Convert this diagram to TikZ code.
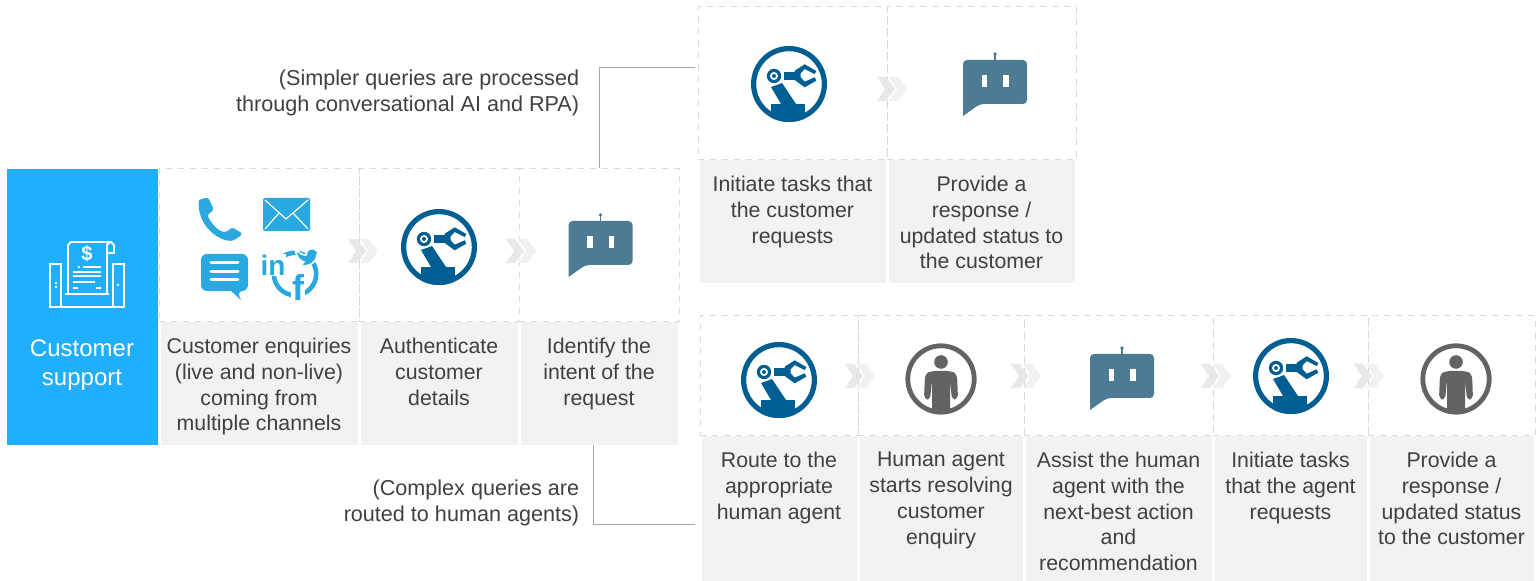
\documentclass[tikz,border=0pt]{standalone}
\usepackage{fontspec}
\setmainfont{Liberation Sans}
\usetikzlibrary{calc,positioning}
\definecolor{supportblue}{HTML}{20AFFF}
\definecolor{channelblue}{HTML}{29A9E0}
\definecolor{robotblue}{HTML}{005E92}
\definecolor{botslate}{HTML}{4D7B93}
\definecolor{agentgrey}{HTML}{636363}
\definecolor{captiongrey}{HTML}{F2F2F2}
\definecolor{dashgrey}{HTML}{D9D9D9}
\definecolor{linkgrey}{HTML}{A6A6A6}
\definecolor{labelgrey}{HTML}{404040}
\definecolor{chevfront}{HTML}{E8E8E8}
\definecolor{chevback}{HTML}{F1F1F1}
\tikzset{
    panel/.style={
        rectangle,
        draw=dashgrey, dashed, line width=0.5pt,
        inner sep=0pt
    },
    captionbox/.style={
        rectangle,
        fill=captiongrey,
        inner sep=0pt
    },
    steptext/.style={
        anchor=north,
        inner sep=0pt,
        align=center,
        text=labelgrey,
        font={\fontsize{10.65pt}{12.9pt}\selectfont}
    },
    sidetext/.style={
        anchor=east,
        inner sep=0pt,
        align=right,
        text=labelgrey,
        font={\fontsize{10.8pt}{13pt}\selectfont}
    },
    link/.style={draw=linkgrey, line width=0.5pt},
    % icons, drawn around their centre
    robotarm/.pic={
        \begin{scope}
            \clip (0,0) circle[radius=19pt];
            \fill[robotblue] (-18,20) rectangle (16,40);
        \end{scope}
        \draw[robotblue, line width=2.6pt] (0,0) circle[radius=17.7pt];
        \fill[robotblue] (-18,3) -- (-7,-1) -- (7,20) -- (-8,20) -- cycle;
        \fill[white] (-15,-8) circle[radius=4.6pt];
        \fill[robotblue] (-15,-8) circle[radius=3.6pt];
        \fill[white] (-15,-8) circle[radius=2pt];
        \fill[robotblue] (-15,-8) circle[radius=1pt];
        \fill[robotblue] (-5,-12) rectangle (6,-4);
        \fill[robotblue] (5.7,-13.3) -- (15.7,-19.7) -- (27.3,-13) -- (25.7,-10)
            -- (15.7,-15) -- (11.7,-10.7) -- (11.7,-6.7) -- (15.7,-2.3)
            -- (25.7,-6.7) -- (27.3,-3.3) -- (15.7,3.3) -- (5.7,-4) -- cycle;
    },
    botchat/.pic={
        \draw[botslate, line width=0.6pt] (0,-22) -- (0,-28);
        \fill[botslate] (0,-28) circle[radius=0.9pt];
        \fill[botslate, rounded corners=2pt] (-32,-22) -- (32,-22) -- (32,22) -- (-15,22)
            [sharp corners] -- (-32,34) [rounded corners=2pt] -- cycle;
        \fill[white] (-13.5,-7) rectangle (-8,5);
        \fill[white] (8,-7) rectangle (13.5,5);
    },
    humanagent/.pic={
        \draw[agentgrey, line width=2.4pt] (0,0) circle[radius=16.6pt];
        \fill[agentgrey] (0,-17) circle[radius=3.4pt];
        \begin{scope}
            \clip (0,0) circle[radius=16.6pt];
            \fill[agentgrey, rounded corners=2pt] (-10,-8) -- (10,-8) -- (16,-5) -- (17,20)
                -- (11,21) -- (9,1) -- (9,40) -- (-9,40) -- (-9,1) -- (-11,21)
                -- (-17,20) -- (-16,-5) -- cycle;
        \end{scope}
    },
    nextchev/.pic={
        \fill[chevback] (0,-12) -- (9,-12) -- (18,0) -- (9,12) -- (0,12) -- (8,0) -- cycle;
        \fill[chevfront] (-12,-12) -- (-3,-12) -- (6,0) -- (-3,12) -- (-12,12) -- (-4,0) -- cycle;
    },
}
\begin{document}
\begin{tikzpicture}[x=0.5pt,y=-0.5pt]
\useasboundingbox (0,0) rectangle (1540,581);
% left block
\node[rectangle, fill=supportblue, inner sep=0pt, minimum width=75.5pt, minimum height=138pt] (support) at (82.5,307) {};
\node[inner sep=0pt, align=center, text=white, font={\fontsize{12pt}{14.5pt}\selectfont}] (supportlabel) at (82,365) {Customer\\support};
\begin{scope}[white, line width=0.9pt]
    \draw (50,264) rectangle (61,307);
    \draw (113,264) rectangle (124,307);
    \draw (61,307) -- (113,307);
    \draw (65,294) -- (109,294);
    \draw (68,294) -- (68,245) -- (71,242) -- (111,242) -- (114,245) -- (114,253) -- (107,253) -- (107,294);
    \draw (107,253) -- (107,245) -- (110,242);
    \draw (83,267) -- (101,267);
    \draw (73,272) -- (101,272);
    \draw (73,276) -- (101,276);
    \draw (73,282) -- (95,282);
    \draw (73,288) -- (78,288);
    \draw (96,288) -- (101,288);
    \fill (79,267) circle[radius=0.7pt];
    \fill (56,283) circle[radius=0.7pt];
    \fill (56,287) circle[radius=0.7pt];
    \fill (118,285) circle[radius=0.7pt];
\end{scope}
\node[inner sep=0pt, text=white, font={\fontsize{10pt}{12pt}\bfseries\selectfont}] (dollar) at (87,254) {\$};
% the steps: name/left/right/top/split/bottom/text
\foreach \nm/\xa/\xb/\ya/\yb/\yc/\txt in {
    enquiry/159/359/169/322/445/{Customer enquiries\\(live and non-live)\\coming from\\multiple channels},
    authent/359/519/169/322/445/{Authenticate\\customer\\details},
    intent/519/679/169/322/445/{Identify the\\intent of the\\request},
    simplea/698/887/7/160/283/{Initiate tasks that\\the customer\\requests},
    simpleb/887/1076/7/160/283/{Provide a\\response /\\updated status to\\the customer},
    complexa/700/858/316/436/581/{Route to the\\appropriate\\human agent},
    complexb/858/1024/316/436/581/{Human agent\\starts resolving\\customer\\enquiry},
    complexc/1024/1213/316/436/581/{Assist the human\\agent with the\\next-best action\\and\\recommendation},
    complexd/1213/1368/316/436/581/{Initiate tasks\\that the agent\\requests},
    complexe/1368/1535/316/436/581/{Provide a\\response /\\updated status\\to the customer}%
} {
    \node[panel, minimum width={(\xb-\xa)*0.5pt}, minimum height={(\yb-\ya)*0.5pt}] (\nm panel) at ({(\xa+\xb)/2},{(\ya+\yb)/2}) {};
    \node[captionbox, minimum width={(\xb-\xa-3)*0.5pt}, minimum height={(\yc-\yb)*0.5pt}] (\nm box) at ({(\xa+\xb)/2},{(\yb+\yc)/2}) {};
    \node[steptext] (\nm text) at ([yshift=-8pt]\nm box.north) {\txt};
}
% connectors
\coordinate (simpleend) at (695,68);
\coordinate (complexbend) at (593.5,525);
\coordinate (complexend) at (695,525);
\draw[link] (intentpanel.north) |- (simpleend);
\draw[link] (complexbend |- intentbox.south) -- (complexbend) -- (complexend);
\node[sidetext] (simplelabel) at (579.5,93) {(Simpler queries are processed\\through conversational AI and RPA)};
\node[sidetext] (complexlabel) at (579.5,503) {(Complex queries are\\routed to human agents)};
% chevrons
\foreach \cx/\cy in {360/251,518/251,889/89,857/376,1023/376,1213/376,1366/376} {
    \pic at (\cx,\cy) {nextchev};
}
% icons
\foreach \cx/\cy in {439/247,789/84,779/380,1291/376} {
    \pic at (\cx,\cy) {robotarm};
}
\foreach \cx/\cy in {600.5/243,995/82,1122/376} {
    \pic at (\cx,\cy) {botchat};
}
\foreach \cx/\cy in {941/379,1456/379} {
    \pic at (\cx,\cy) {humanagent};
}
% channels
\fill[channelblue, rounded corners=1.5pt] (199,200) -- (208,197) -- (214,210) -- (207,215) .. controls (213,226) and (220,232) .. (227,232) -- (232,227) -- (243,234) -- (233,241) .. controls (215,240) and (196,222) .. (199,200);
\fill[channelblue, rounded corners=1pt] (263,198) rectangle (310,231);
\draw[white, line width=0.6pt] (265,200) -- (286,219) -- (308,200);
\draw[white, line width=0.6pt] (265,229) -- (279,213);
\draw[white, line width=0.6pt] (308,229) -- (293,213);
\fill[channelblue, rounded corners=3pt] (201,254) -- (248,254) -- (248,291) -- (237,291) [sharp corners] -- (241,300) -- (231,291) [rounded corners=3pt] -- (201,291) -- cycle;
\foreach \by in {263,272,280} {
    \draw[white, line width=1.5pt, line cap=round] (211,\by) -- (238,\by);
}
\draw[channelblue, line width=2.3pt] (295,274) circle[radius=10.6pt];
\node[inner sep=0.5pt, fill=white, text=channelblue, font={\fontsize{14pt}{14pt}\bfseries\selectfont}] (linkedin) at (273,265) {in};
\node[inner sep=0.4pt, fill=white, text=channelblue, font={\fontsize{18pt}{18pt}\bfseries\selectfont}] (facebook) at (298,287) {f};
\fill[channelblue, draw=white, line width=0.8pt] (295,248) .. controls (299,254) and (303,255) .. (306,255) .. controls (306,249) and (313,246) .. (317,251) -- (319,249) -- (317,255) .. controls (316,263) and (308,268) .. (298,265) .. controls (301,265) and (303,264) .. (304,262) .. controls (299,261) and (296,256) .. (295,248) -- cycle;
\end{tikzpicture}
\end{document}
